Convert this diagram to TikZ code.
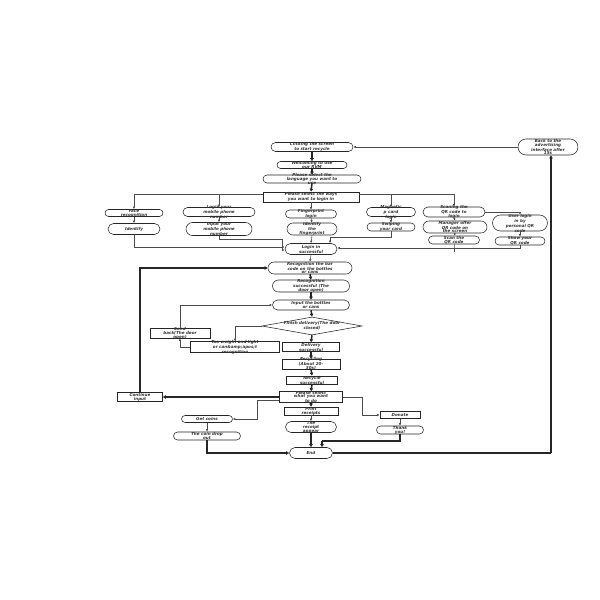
\documentclass[tikz,border=0pt]{standalone}
\usepackage{fontspec}
\setmainfont{DejaVu Sans}
\usetikzlibrary{shapes.misc,shapes.geometric,arrows.meta}
\tikzset{
  boxline/.style={draw=black!85, line width=0.55pt, inner sep=0pt},
  pillbox/.style={boxline, rounded rectangle},
  rectbox/.style={boxline, rectangle},
  diabox/.style={boxline, diamond},
  tx/.style={font=\fontsize{4.1}{3.9}\selectfont\bfseries\itshape, align=center, inner sep=0pt, text=black!80},
  thin/.style={draw=black!70, line width=0.55pt, -{Latex[length=2.6pt,width=2.4pt]}},
  thinl/.style={draw=black!70, line width=0.55pt},
  thick/.style={draw=black!85, line width=1.5pt, -{Latex[length=3pt,width=4pt]}},
  thickl/.style={draw=black!85, line width=1.5pt}
}
\newcommand\mkpill[5]{\node[pillbox, minimum width=#3pt, minimum height=#4pt, label={[tx]center:{#5}}] (#1) at (#2) {};}
\newcommand\mkrect[5]{\node[rectbox, minimum width=#3pt, minimum height=#4pt, label={[tx]center:{#5}}] (#1) at (#2) {};}
\begin{document}
\begin{tikzpicture}[x=1pt,y=-1pt]
\fill[white] (0,0) rectangle (600,600);
\useasboundingbox (0,0) rectangle (600,600);
% top column
\mkpill{clk}{312,147}{82}{9}{Clicking the screen\\to start recycle}
\mkpill{wel}{312,165}{70}{7}{Welcoming to use\\our RVM}
\mkpill{lang}{312,179}{98}{8}{Please select the\\language you want to\\use}
\mkrect{ways}{311,197}{96}{10}{Please select the ways\\you want to login in}
\mkpill{back}{548,147}{60}{16}{Back to the\\advertising\\interface after\\15s}
% login options
\mkpill{face}{134,213}{58}{7}{Face\\recognition}
\mkpill{mob}{219,212}{72}{9}{Login your\\mobile phone\\number}
\mkpill{fing}{311,214}{51}{8}{Fingerprint\\login}
\mkpill{mag}{391,212}{49}{9}{Magnetic\\p card\\login}
\mkpill{scq}{454,212}{62}{10}{Scaning the\\QR code to\\login}
\mkpill{usr}{520,223}{55}{16}{User login\\in by\\personal QR\\code}
\mkpill{ident}{134,229}{52}{11}{Identify}
\mkpill{inmob}{219,229}{66}{13}{Input your\\mobile phone\\number}
\mkpill{idf}{312,229}{50}{12}{Identify\\the\\fingerprint}
\mkpill{swp}{391,227}{48}{8}{Swiping\\your card}
\mkpill{mgr}{455,227}{64}{12}{Manager offer\\QR code on\\the screen}
\mkpill{sqr}{454,240}{51}{8}{Scan the\\QR code}
\mkpill{shq}{520,241}{50}{8}{Show your\\QR code}
\mkpill{login}{311,249}{52}{11}{Login in\\successful}
% recycling
\mkpill{recb}{310,268}{84}{12}{Recognition the bar\\code on the bottles\\or cans}
\mkpill{recs}{311,286}{77}{12}{Recognition\\successful (The\\door open)}
\mkpill{inb}{311,305}{77}{10}{Input the bottles\\or cans}
\node[diabox, minimum width=100pt, minimum height=18pt, label={[tx]center:{Finish delivery(The door\\closed)}}] (dia) at (312,326) {};
\mkrect{send}{180,333}{60}{10}{Send\\back(The door\\open)}
\mkrect{too}{235,347}{89}{11}{Too weight and light\\or can\&amp;apos;t\\recognition}
\mkrect{dlv}{311,347}{57}{9}{Delivery\\successful}
\mkrect{rcy}{311,364}{58}{10}{Recycling\\(About 20-\\30s)}
\mkrect{rcs}{312,380}{51}{8}{Recycle\\successful}
\mkrect{psel}{311,397}{63}{11}{Please select\\what you want\\to do}
\mkrect{cont}{140,397}{45}{9}{Continue\\input}
\mkrect{prt}{311,411}{54}{8}{Print\\receipts}
\mkpill{rcpt}{311,427}{51}{11}{The\\receipt\\appear}
\mkpill{coin}{207,419}{51}{7}{Get coins}
\mkpill{drop}{207,436}{67}{8}{The coin drop\\out}
\mkpill{endn}{311,453}{43}{11}{End}
\mkrect{don}{400,415}{40}{7}{Donate}
\mkpill{thx}{400,430}{47}{8}{Thank\\you!}
% helper coordinates
\coordinate (wl) at ([yshift=3pt]ways.west);
\coordinate (wr) at ([yshift=3pt]ways.east);
\coordinate (jm) at (282,239);
\coordinate (js) at (330,237);
\coordinate (jg) at (257,419);
\coordinate (jd) at (362,415);
\coordinate (jt) at (322,441);
\coordinate (cr) at (551,453);
% connectors: top
\draw[thin] (back.west) -- (clk.east);
\draw[thick] (clk.south) -- (wel.north);
\draw[thick] (wel.south) -- (lang.north);
\draw[thick] (lang.south) -- (ways.north);
\draw[thin] (wl) -| (face.north);
\draw[thin] (wl -| mob.north) -- (mob.north);
\draw[thin] (wr) -| (scq.north);
\draw[thin] (wr -| mag.north) -- (mag.north);
\draw[thin] (ways.south) -- (fing.north);
\draw[thin] (face.south) -- (ident.north);
\draw[thin] (mob.south) -- (inmob.north);
\draw[thin] (fing.south) -- (idf.north);
\draw[thin] (mag.south) -- (swp.north);
\draw[thin] (scq.south) -- (mgr.north);
\draw[thin] (mgr.south) -- (sqr.north);
\draw[thin] (scq.east) -| (usr.north);
\draw[thin] (usr.south) -- (shq.north);
\draw[thin] (ident.south) |- ([yshift=2pt]login.west);
\draw[thin] (inmob.south) |- (jm) |- ([yshift=-1pt]login.west);
\draw[thin] (idf.south) -- (login.north);
\draw[thin] (swp.south) |- (js) -- (js |- login.north);
\draw[thin] (shq.south) |- ([yshift=1pt]login.east);
\draw[thinl] (sqr.south) -- (sqr.south |- shq.south) -- ++(0,7);
% recycling column
\draw[thin] (login.south) -- (recb.north);
\draw[thick] (recb.south) -- (recs.north);
\draw[thick] (recs.south) -- (inb.north);
\draw[thick] (inb.south) -- (dia.north);
\draw[thick] (dia.south) -- (dlv.north);
\draw[thin] (dia.west) -| (too.north);
\draw[thin] (too.west) -| (send.south);
\draw[thin] (send.north) |- (inb.west);
\draw[thick] (dlv.south) -- (rcy.north);
\draw[thick] (rcy.south) -- (rcs.north);
\draw[thick] (rcs.south) -- (psel.north);
\draw[thick] (psel.west) -- (cont.east);
\draw[thick] (cont.north) |- (recb.west);
\draw[thin] ([yshift=-3pt]psel.west) -| (jg) -- (coin.east);
\draw[thin] (psel.east) -| (jd) -- (don.west);
\draw[thick] (psel.south) -- (prt.north);
\draw[thin] (prt.south) -- (rcpt.north);
\draw[thick] (rcpt.south) -- (endn.north);
\draw[thin] (coin.south) -- (drop.north);
\draw[thin] (don.south) -- (thx.north);
\draw[thick] (drop.south) |- (endn.west);
\draw[thickl] (thx.south) |- (jt);
\draw[thick] (jt) -- (jt |- endn.north);
\draw[thickl] (endn.east) -- (cr);
\draw[thick] (cr) -- (cr |- back.south);
\end{tikzpicture}
\end{document}
